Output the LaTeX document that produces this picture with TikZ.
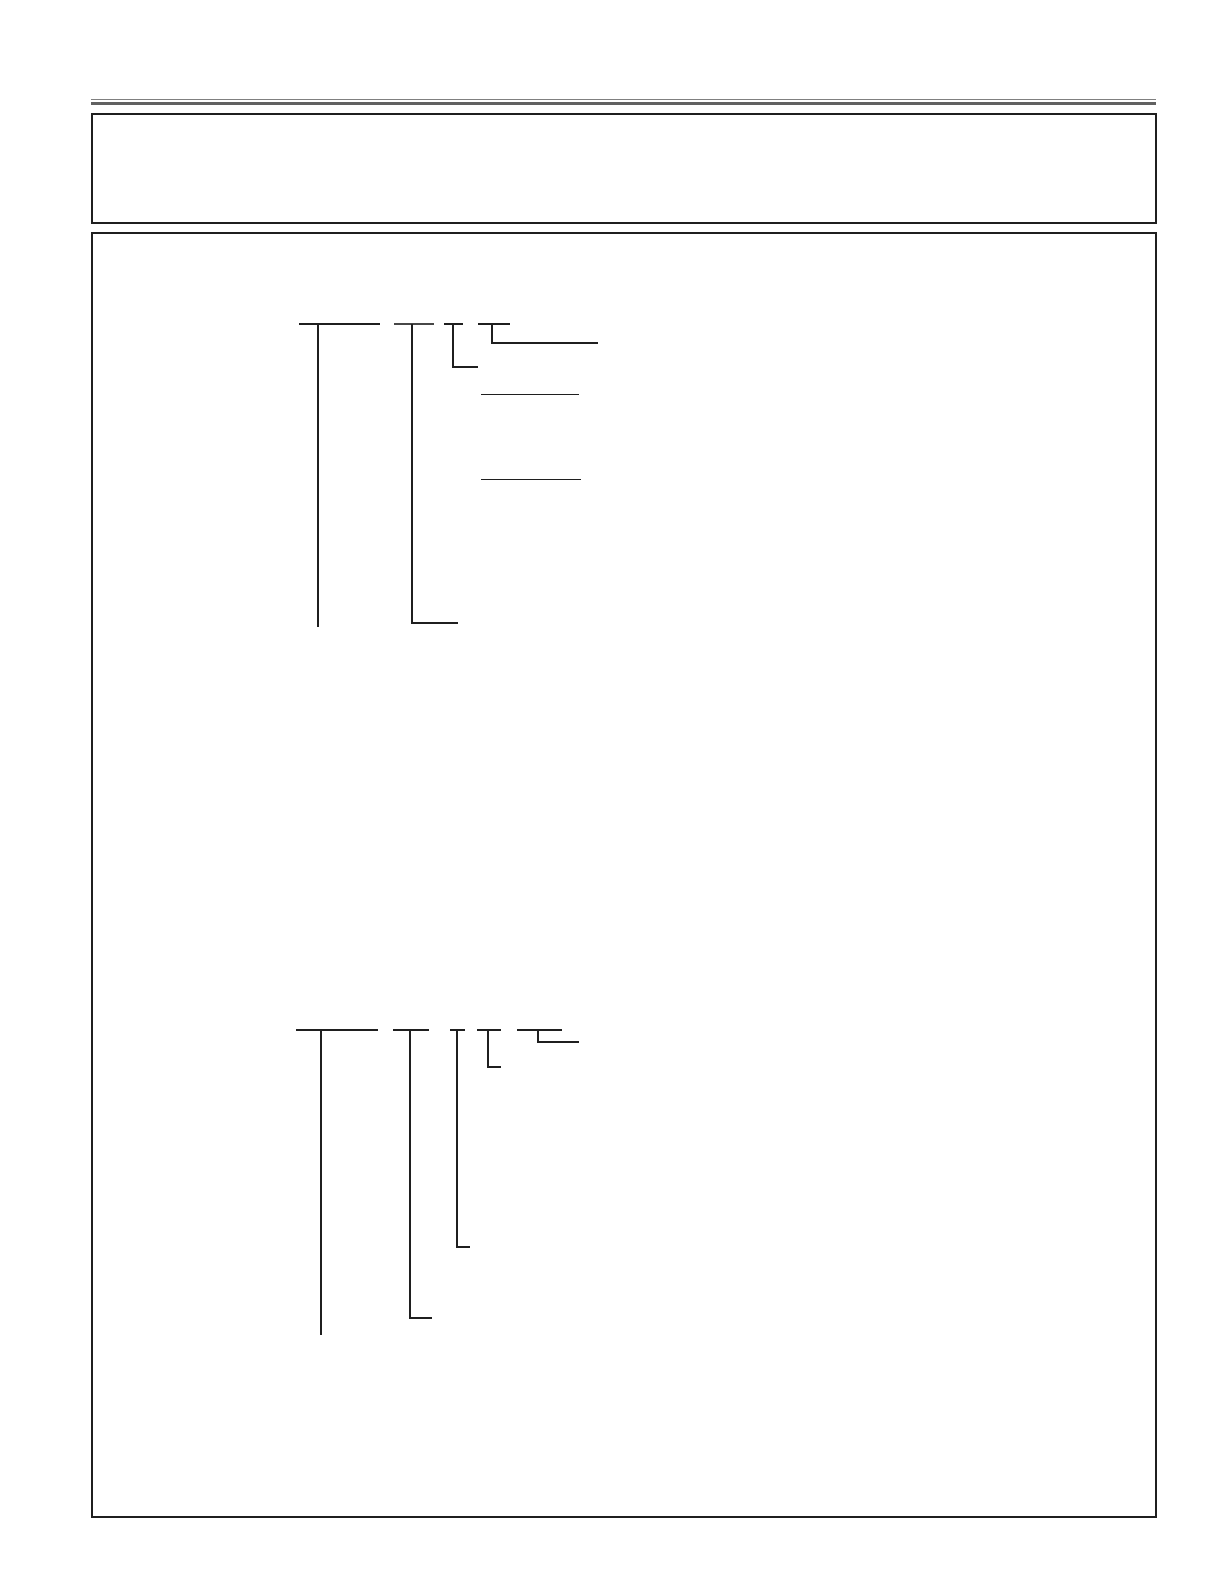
\documentclass[tikz,border=0pt]{standalone}
\usepackage{tikz}

\begin{document}
\begin{tikzpicture}[x=1pt,y=-1pt,
  frame/.style={draw=black!88,line width=2pt},
  bar/.style={draw=black!88,line width=2pt},
  thinbar/.style={draw=black!88,line width=1.3pt}]
\useasboundingbox (0,0) rectangle (1224,1584);
% header rules
\draw[black!50,line width=1pt] (91,99.5) -- (1156,99.5);
\draw[black!62,line width=3pt] (91,103.5) -- (1156,103.5);
% boxes
\draw[frame] (92,114) rectangle (1156,223);
\draw[frame] (92,233) rectangle (1156,1517);
% upper tree
\coordinate (a1) at (318,324); \coordinate (a2) at (412,324);
\coordinate (a3) at (453,324); \coordinate (a4) at (492,324);
\draw[bar] (299,324) -- (380,324);
\draw[bar] (a1) -- (318,627);
\draw[bar,black!72] (394,324) -- (434,324);
\draw[bar] (a2) -- (412,623) -- (458,623);
\draw[bar] (444,324) -- (463,324);
\draw[bar] (a3) -- (453,366.5) -- (478,366.5);
\draw[bar] (478,324) -- (510,324);
\draw[bar] (a4) -- (492,342.5) -- (598,342.5);
\draw[thinbar] (481,394.5) -- (579,394.5);
\draw[thinbar] (481,479.5) -- (581,479.5);
% lower tree
\coordinate (b1) at (321,1030); \coordinate (b2) at (410,1030);
\coordinate (b3) at (457,1030); \coordinate (b4) at (488,1030);
\coordinate (b5) at (538,1030);
\draw[bar] (296,1030) -- (378,1030);
\draw[bar] (b1) -- (321,1335);
\draw[bar] (393,1030) -- (429,1030);
\draw[bar] (b2) -- (410,1318) -- (432,1318);
\draw[bar] (450,1030) -- (465,1030);
\draw[bar] (b3) -- (457,1247) -- (470,1247);
\draw[bar] (477,1030) -- (501,1030);
\draw[bar] (b4) -- (488,1066.5) -- (501,1066.5);
\draw[bar] (517,1030) -- (562,1030);
\draw[bar] (b5) -- (538,1042) -- (579,1042);
\end{tikzpicture}
\end{document}
